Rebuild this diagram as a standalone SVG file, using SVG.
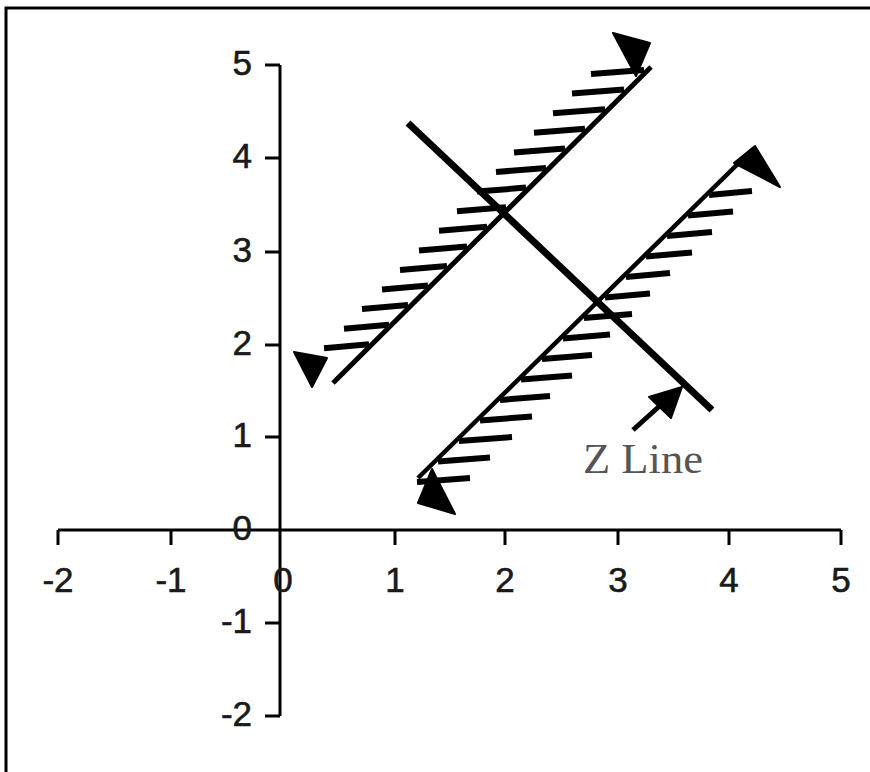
<svg xmlns="http://www.w3.org/2000/svg" width="870" height="772" viewBox="0 0 870 772">
<style>
.frame{fill:none;stroke:#000;stroke-width:3}
.axis{fill:none;stroke:#000;stroke-width:3}
.tick{fill:none;stroke:#000;stroke-width:3}
.lbl{font-family:"Liberation Sans",Arial,sans-serif;font-size:35px;fill:#1a1a1a;stroke:#1a1a1a;stroke-width:0.6}
.ylbl{text-anchor:end}
.xlbl{text-anchor:middle}
.wall{fill:none;stroke:#000;stroke-linecap:butt}
.hatch{fill:none;stroke:#000;stroke-width:6}
.head{fill:#000;stroke:#000;stroke-width:2;stroke-linejoin:round}
.zlabel{font-family:"Liberation Serif","Times New Roman",serif;font-size:42px;fill:#555}
</style>
<rect width="870" height="772" fill="#fff"/>
<path class="frame" d="M6,772 V8 H870"/>

<g id="axes">
  <line class="axis" x1="58" y1="530" x2="841" y2="530"/>
  <line class="axis" x1="280" y1="65" x2="280" y2="716"/>
  <g id="x-ticks">
    <line class="tick" x1="58" y1="530" x2="58" y2="545"/>
    <line class="tick" x1="171" y1="530" x2="171" y2="545"/>
    <line class="tick" x1="395" y1="530" x2="395" y2="545"/>
    <line class="tick" x1="505" y1="530" x2="505" y2="545"/>
    <line class="tick" x1="618" y1="530" x2="618" y2="545"/>
    <line class="tick" x1="729" y1="530" x2="729" y2="545"/>
    <line class="tick" x1="841" y1="530" x2="841" y2="545"/>
  </g>
  <g id="y-ticks">
    <line class="tick" x1="265" y1="65" x2="280" y2="65"/>
    <line class="tick" x1="265" y1="158" x2="280" y2="158"/>
    <line class="tick" x1="265" y1="252" x2="280" y2="252"/>
    <line class="tick" x1="265" y1="345" x2="280" y2="345"/>
    <line class="tick" x1="265" y1="437" x2="280" y2="437"/>
    <line class="tick" x1="265" y1="623" x2="280" y2="623"/>
    <line class="tick" x1="265" y1="716" x2="280" y2="716"/>
  </g>
  <g id="y-labels" class="lbl ylbl">
    <text x="252" y="75">5</text>
    <text x="252" y="168">4</text>
    <text x="252" y="262">3</text>
    <text x="252" y="355">2</text>
    <text x="252" y="447">1</text>
    <text x="252" y="540">0</text>
    <text x="252" y="633">-1</text>
    <text x="252" y="726">-2</text>
  </g>
  <g id="x-labels" class="lbl xlbl">
    <text x="58" y="592">-2</text>
    <text x="171" y="592">-1</text>
    <text x="283" y="592">0</text>
    <text x="395" y="592">1</text>
    <text x="505" y="592">2</text>
    <text x="618" y="592">3</text>
    <text x="729" y="592">4</text>
    <text x="841" y="592">5</text>
  </g>
</g>

<g id="wall-a">
  <line class="wall" x1="333" y1="383" x2="651" y2="67" stroke-width="5"/>
  <g class="hatch">
    <line x1="644" y1="70" x2="591" y2="74"/>
    <line x1="624" y1="89.6" x2="572" y2="93.6"/>
    <line x1="605" y1="109.2" x2="553" y2="113.2"/>
    <line x1="585" y1="128.8" x2="534" y2="132.8"/>
    <line x1="565" y1="148.4" x2="514" y2="152.4"/>
    <line x1="546" y1="168" x2="496" y2="172"/>
    <line x1="526" y1="187.6" x2="477" y2="191.6"/>
    <line x1="506" y1="207.2" x2="457" y2="211.2"/>
    <line x1="487" y1="226.8" x2="439" y2="230.8"/>
    <line x1="467" y1="246.4" x2="419" y2="250.4"/>
    <line x1="447" y1="265.9" x2="400" y2="269.9"/>
    <line x1="428" y1="285.5" x2="382" y2="289.5"/>
    <line x1="408" y1="305.1" x2="362" y2="309.1"/>
    <line x1="389" y1="324.7" x2="344" y2="328.7"/>
    <line x1="369" y1="344.3" x2="324" y2="348.3"/>
  </g>
  <polygon class="head" points="613,33 650,43 636,76"/>
  <polygon class="head" points="294,352 327,358 312,387"/>
</g>

<g id="wall-b">
  <line class="wall" x1="418" y1="478" x2="752" y2="150" stroke-width="4.5"/>
  <g class="hatch">
    <line x1="709" y1="195" x2="752" y2="191"/>
    <line x1="688" y1="215.5" x2="733" y2="211.5"/>
    <line x1="667" y1="236" x2="712" y2="232"/>
    <line x1="646" y1="256.5" x2="692" y2="252.5"/>
    <line x1="626" y1="277" x2="670" y2="273"/>
    <line x1="605" y1="297.5" x2="650" y2="293.5"/>
    <line x1="584" y1="318" x2="632" y2="314"/>
    <line x1="563" y1="338.5" x2="610" y2="334.5"/>
    <line x1="542" y1="359" x2="592" y2="355"/>
    <line x1="521" y1="379.5" x2="572" y2="375.5"/>
    <line x1="500" y1="400" x2="550" y2="396"/>
    <line x1="480" y1="420.5" x2="532" y2="416.5"/>
    <line x1="459" y1="441" x2="512" y2="437"/>
    <line x1="438" y1="461.5" x2="490" y2="457.5"/>
    <line x1="417" y1="482" x2="470" y2="478"/>
  </g>
  <polygon class="head" points="734,163 755,146 780,187"/>
  <polygon class="head" points="455,514 418,503 432,469"/>
</g>

<g id="z-line">
  <line class="wall" x1="408" y1="123" x2="712" y2="410" stroke-width="7"/>
</g>

<g id="connectors">
  <line x1="633" y1="430" x2="664" y2="402" stroke="#000" stroke-width="5"/>
  <polygon class="head" points="682,387 649,397 671,418"/>
</g>

<g id="z-label">
  <text class="zlabel" x="583" y="473" textLength="120" lengthAdjust="spacingAndGlyphs">Z Line</text>
</g>
</svg>
